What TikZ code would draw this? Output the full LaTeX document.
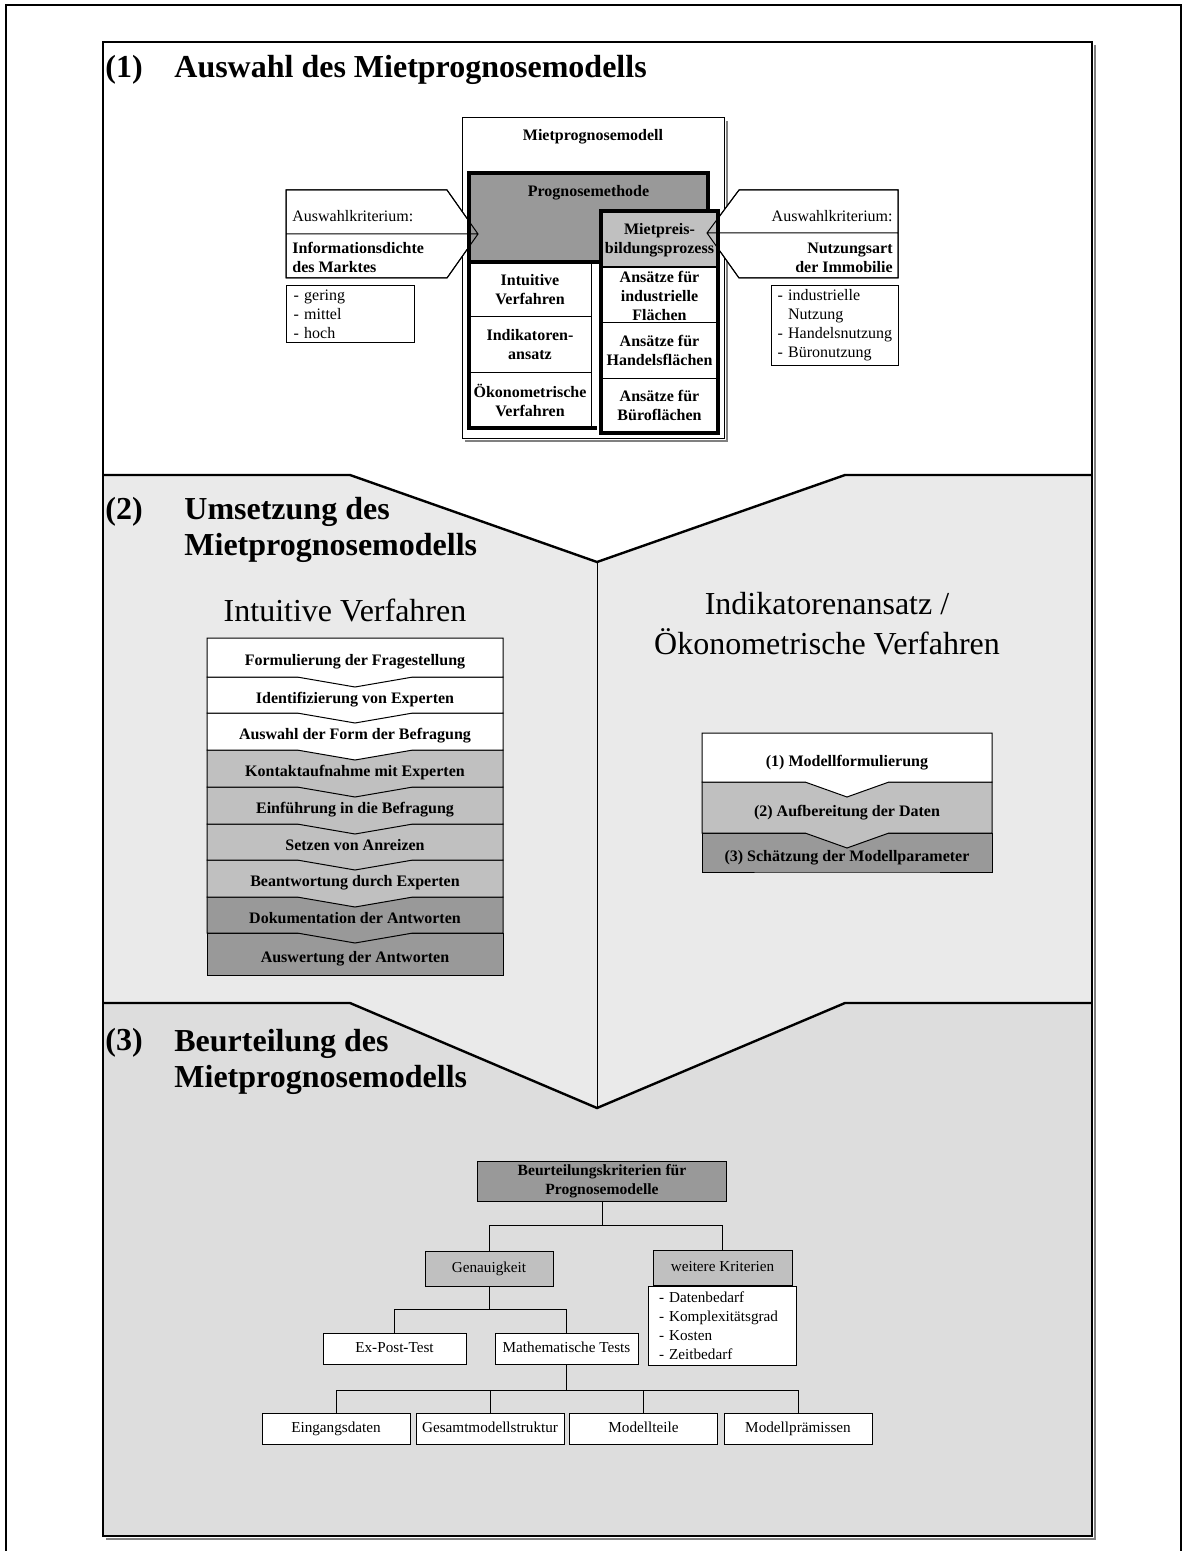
\documentclass[tikz,border=0pt]{standalone}
\usepackage{fontspec}
\setmainfont{Liberation Serif}
\usetikzlibrary{positioning}
\definecolor{lightgr}{HTML}{C0C0C0}
\definecolor{darkgr}{HTML}{999999}
\definecolor{sectwo}{HTML}{EAEAEA}
\definecolor{secthree}{HTML}{DDDDDD}

\begin{document}
\begin{tikzpicture}[x=0.5pt,y=-0.5pt,
  hair/.style={line width=0.5pt},
  heavy/.style={line width=2pt},
  lbl/.style={inner sep=0pt,font=\fontsize{8}{9.5}\selectfont,align=center},
  blbl/.style={inner sep=0pt,font=\fontsize{8}{9.5}\selectfont\bfseries,align=center},
  sectitle/.style={inner sep=0pt,anchor=west,align=left,font=\fontsize{16}{18}\selectfont\bfseries},
  bigtxt/.style={inner sep=0pt,align=center,font=\fontsize{16}{20}\selectfont},
  treebox/.style={draw,hair,fill=white,inner sep=1pt,font=\fontsize{7.6}{9.5}\selectfont,minimum width=74pt,minimum height=15.5pt},
  oneline/.style={text height=5.6pt,text depth=1.6pt},
  listbox/.style={draw,hair,fill=white,anchor=north west,inner ysep=1pt,align=left,font=\fontsize{8}{9.5}\selectfont}]
\useasboundingbox (0,0) rectangle (1189,1551);

% Rahmen
\draw[line width=1pt] (6,1551) -- (6,5) -- (1181,5) -- (1181,1551);
\fill[white] (103,42) rectangle (1092,475);
\fill[sectwo] (103,475) -- (350,475) -- (597,562) -- (845,475) -- (1092,475) -- (1092,1003)
  -- (845,1003) -- (597,1108) -- (350,1003) -- (103,1003) -- cycle;
\fill[secthree] (103,1003) -- (350,1003) -- (597,1108) -- (845,1003) -- (1092,1003)
  -- (1092,1536) -- (103,1536) -- cycle;
\draw[line width=1.2pt] (103,475) -- (350,475) -- (597,562) -- (845,475) -- (1092,475);
\draw[line width=1.2pt] (103,1003) -- (350,1003) -- (597,1108) -- (845,1003) -- (1092,1003);
\draw[hair] (597,562) -- (597,1108);
\draw[gray,line width=1pt] (106,1539) -- (1095,1539) -- (1095,45);
\draw[line width=1pt] (103,42) rectangle (1092,1536);

% (1) Auswahl
\node[sectitle] (nr1) at (105,70) {(1)};
\node[sectitle] (titel1) at (174,70) {Auswahl des Mietprognosemodells};

\draw[hair,fill=white] (462,118) rectangle (724,438);
\draw[gray,line width=1pt] (465,441) -- (727,441) -- (727,121);
\node[blbl] (modell) at (593,137) {Mietprognosemodell};

\filldraw[fill=white,hair] (286,190) -- (447,190) -- (478,234) -- (447,278) -- (286,278) -- cycle;
\filldraw[fill=white,hair] (707,233) -- (739,190) -- (898,190) -- (898,278) -- (739,278) -- cycle;

\filldraw[fill=darkgr,heavy] (469,173) rectangle (708,262);
\filldraw[fill=white,hair] (469,262) rectangle (591,428);
\draw[hair] (469,317) -- (591,317) (469,372) -- (591,372);
\draw[heavy] (601,262) -- (469,262) -- (469,428) -- (597,428);

\filldraw[fill=white,heavy] (601,211) rectangle (718,433);
\filldraw[fill=lightgr,line width=1pt] (601,211) rectangle (718,267);
\draw[hair] (601,323) -- (718,323) (601,378) -- (718,378);
\draw[heavy] (601,211) rectangle (718,433);

\draw[hair] (286,190) -- (447,190) -- (478,234) -- (447,278) -- (286,278) -- cycle (286,234) -- (478,234);
\draw[hair] (707,233) -- (739,190) -- (898,190) -- (898,278) -- (739,278) -- cycle (707,233) -- (898,233);

\node[blbl] (progn) at (588.5,193) {Prognosemethode};
\node[blbl] (intu) at (530,289.5) {Intuitive\\Verfahren};
\node[blbl] (indi) at (530,344.5) {Indikatoren-\\ansatz};
\node[blbl] (oeko) at (530,400) {Ökonometrische\\Verfahren};
\node[blbl] (mietp) at (659.5,240) {Mietpreis-\\bildungsprozess};
\node[blbl] (indu) at (659.5,295.5) {Ansätze für\\industrielle\\Flächen};
\node[blbl] (hand) at (659.5,350.5) {Ansätze für\\Handelsflächen};
\node[blbl] (buero) at (659.5,405.5) {Ansätze für\\Büroflächen};

\node[lbl,anchor=west] (kritl) at (292,216) {Auswahlkriterium:};
\node[blbl,anchor=west,align=left] (dichte) at (292,257.5) {Informationsdichte\\des Marktes};
\node[lbl,anchor=east] (kritr) at (893,216) {Auswahlkriterium:};
\node[blbl,anchor=east,align=right] (nutzung) at (893,257.5) {Nutzungsart\\der Immobilie};

\node[listbox,inner xsep=3.5pt,text width=57pt,minimum height=28.5pt] (dichteliste) at (286,285)
  {- gering\\- mittel\\- hoch};
\node[listbox,inner xsep=3pt,text width=57.5pt,minimum height=40pt] (nutzliste) at (771,285)
  {- industrielle\\\phantom{- }Nutzung\\- Handelsnutzung\\- Büronutzung};

% (2) Umsetzung
\node[sectitle] (nr2) at (105,512) {(2)};
\node[sectitle] (titel2) at (184,530) {Umsetzung des\\Mietprognosemodells};
\node[bigtxt] (intuitiv) at (345,610) {Intuitive Verfahren};
\node[bigtxt] (oekon) at (827,624) {Indikatorenansatz /\\Ökonometrische Verfahren};

% Ablauf intuitive Verfahren: erst Felder, dann Texte
\foreach \t/\b/\d/\c in {933/975/0/darkgr, 897/933/10/darkgr, 860/897/10/lightgr,
  824/860/10/lightgr, 787/824/10/lightgr, 750/787/10/lightgr,
  713/750/10/white, 677/713/10/white, 638/677/10/white}
  \filldraw[hair,fill=\c] (207,\t) -- (503,\t) -- (503,\b) -- (413,\b) -- (355,{\b+\d}) -- (297,\b) -- (207,\b) -- cycle;
\foreach \t/\b/\txt [count=\i] in {
  638/677/Formulierung der Fragestellung,
  677/713/Identifizierung von Experten,
  713/750/Auswahl der Form der Befragung,
  750/787/Kontaktaufnahme mit Experten,
  787/824/Einführung in die Befragung,
  824/860/Setzen von Anreizen,
  860/897/Beantwortung durch Experten,
  897/933/Dokumentation der Antworten,
  933/975/Auswertung der Antworten}
  \node[blbl,oneline] (iv\i) at (355,{(\t+\b)/2+4}) {\txt};

% Ablauf oekonometrische Verfahren
\foreach \t/\b/\d/\c in {833/872/0/darkgr, 782/833/15/lightgr, 733/782/15/white}
  \filldraw[hair,fill=\c] (702,\t) -- (992,\t) -- (992,\b) -- (889,\b) -- (847,{\b+\d}) -- (805,\b) -- (702,\b) -- cycle;
\foreach \t/\b/\txt [count=\i] in {
  733/782/(1) Modellformulierung,
  782/833/(2) Aufbereitung der Daten,
  833/872/(3) Schätzung der Modellparameter}
  \node[blbl,oneline] (ok\i) at (847,{(\t+\b)/2+5}) {\txt};

% (3) Beurteilung
\node[sectitle] (nr3) at (105,1043) {(3)};
\node[sectitle] (titel3) at (174,1061.5) {Beurteilung des\\Mietprognosemodells};

\node[treebox,fill=darkgr,align=center,font=\fontsize{7.8}{9.5}\selectfont\bfseries,minimum width=124.5pt,minimum height=20pt] (krit) at (602,1181)
  {Beurteilungskriterien für\\Prognosemodelle};
\node[treebox,oneline,fill=lightgr,minimum width=64pt,minimum height=17.5pt] (genau) at (489,1268.5) {Genauigkeit};
\node[treebox,oneline,fill=lightgr,minimum width=69.5pt,minimum height=17.5pt] (weitere) at (722.5,1267.5) {weitere Kriterien};
\node[treebox,anchor=north,inner xsep=3pt,text width=63.5pt,align=left,minimum height=39.5pt] (weiterliste) at (weitere.south)
  {- Datenbedarf\\- Komplexitätsgrad\\- Kosten\\- Zeitbedarf};
\node[treebox,oneline,minimum width=71.5pt] (expost) at (394.5,1348.5) {Ex-Post-Test};
\node[treebox,oneline,minimum width=71.5pt] (mathe) at (566.5,1348.5) {Mathematische Tests};
\node[treebox,oneline] (eingang) at (336,1428.5) {Eingangsdaten};
\node[treebox,oneline,inner xsep=0pt] (gesamt) at (490,1428.5) {Gesamtmodellstruktur};
\node[treebox,oneline] (teile) at (643.5,1428.5) {Modellteile};
\node[treebox,oneline] (praemisse) at (798,1428.5) {Modellprämissen};

\draw[hair] (krit.south) -- ++(0,24) -| (genau.north);
\draw[hair] (krit.south) -- ++(0,24) -| (weitere.north);
\draw[hair] (genau.south) -- ++(0,23) -| (expost.north);
\draw[hair] (genau.south) -- ++(0,23) -| (mathe.north);
\foreach \n in {eingang,gesamt,teile,praemisse}
  \draw[hair] (mathe.south) -- ++(0,26) -| (\n.north);
\end{tikzpicture}
\end{document}
